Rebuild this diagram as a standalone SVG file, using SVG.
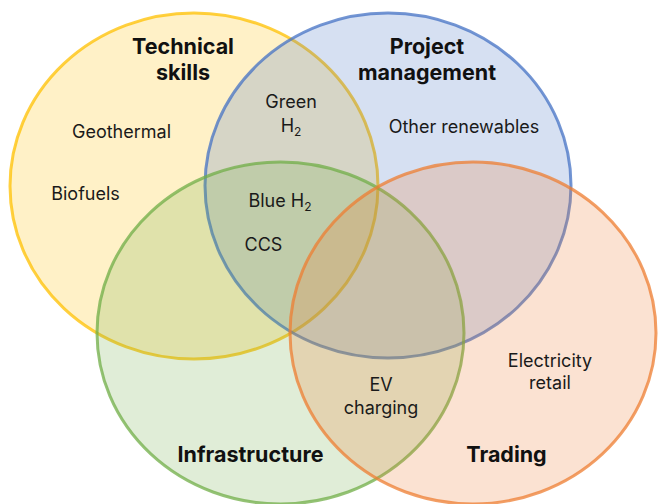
<svg xmlns="http://www.w3.org/2000/svg" width="658" height="504" viewBox="0 0 658 504">
  <style>
    .set { stroke-width: 3; stroke-opacity: 0.75; fill-opacity: 0.22; }
    .title { font-family: Inter, "Liberation Sans", sans-serif; font-weight: 700; font-size: 21.5px; fill: #111; text-anchor: middle; }
    .item { font-family: Inter, "Liberation Sans", sans-serif; font-size: 18px; fill: #1a1a1a; text-anchor: middle; }
    .sub { font-size: 12px; }
  </style>
  <rect width="658" height="504" fill="#fff"/>

  <!-- Set circles -->
  <g id="technical-skills">
    <ellipse class="set" cx="194" cy="186" rx="184" ry="173" fill="#FFC000" stroke="#FFC000"/>
  </g>
  <g id="project-management">
    <ellipse class="set" cx="388" cy="185.5" rx="183" ry="172.5" fill="#4472C4" stroke="#4472C4"/>
  </g>
  <g id="infrastructure">
    <ellipse class="set" cx="280.5" cy="333" rx="183.5" ry="171" fill="#70AD47" stroke="#70AD47"/>
  </g>
  <g id="trading">
    <ellipse class="set" cx="473" cy="333" rx="183" ry="171" fill="#ED7D31" stroke="#ED7D31"/>
  </g>

  <!-- Set titles -->
  <g id="set-titles">
    <text class="title" x="183" y="54">Technical</text>
    <text class="title" x="183" y="80">skills</text>
    <text class="title" x="427" y="54">Project</text>
    <text class="title" x="427" y="80">management</text>
    <text class="title" x="250.5" y="462">Infrastructure</text>
    <text class="title" x="506.5" y="462">Trading</text>
  </g>

  <!-- Items placed in regions -->
  <g id="items">
    <text class="item" x="121.5" y="138">Geothermal</text>
    <text class="item" x="85.5" y="200">Biofuels</text>
    <text class="item" x="291" y="108">Green</text>
    <text class="item" x="291" y="132">H<tspan class="sub" dy="4">2</tspan></text>
    <text class="item" x="280" y="207">Blue H<tspan class="sub" dy="4">2</tspan></text>
    <text class="item" x="263.5" y="251">CCS</text>
    <text class="item" x="464" y="133">Other renewables</text>
    <text class="item" x="550" y="367">Electricity</text>
    <text class="item" x="550" y="389">retail</text>
    <text class="item" x="381" y="391">EV</text>
    <text class="item" x="381" y="414">charging</text>
  </g>
</svg>
